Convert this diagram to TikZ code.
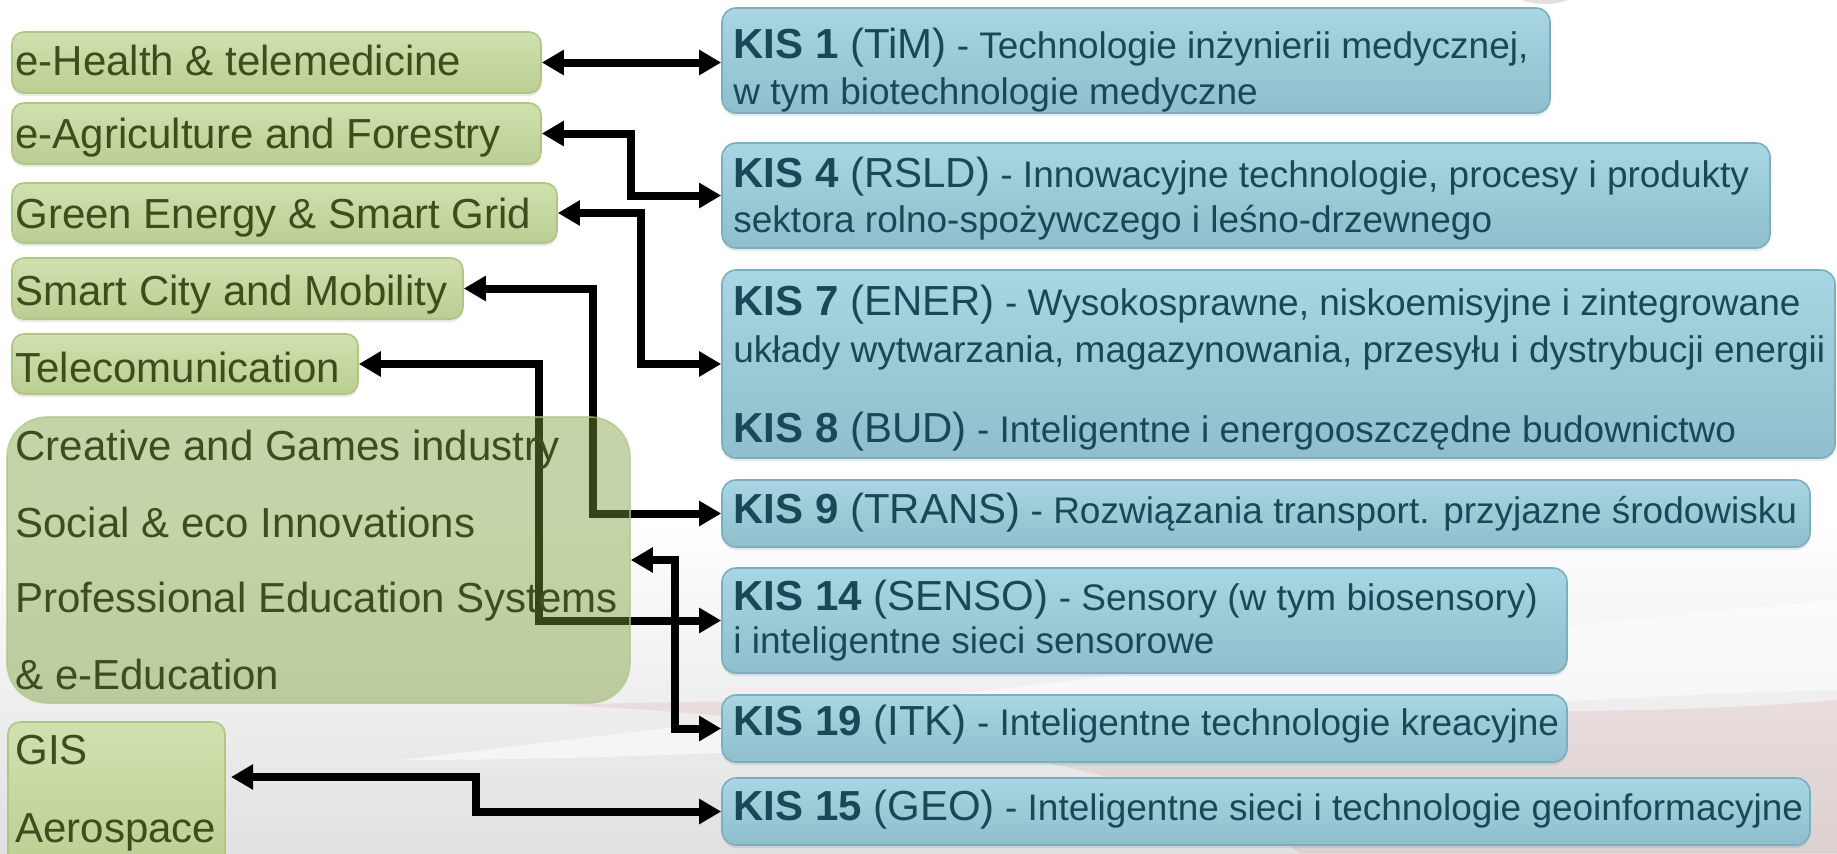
\documentclass[tikz,border=0pt]{standalone}
\usepackage{fontspec}
\setmainfont{Liberation Sans}
\usetikzlibrary{arrows.meta,fit,shadows}
\pgfdeclarelayer{bglayer}
\pgfdeclarelayer{arrlayer}
\pgfsetlayers{bglayer,arrlayer,main}
\definecolor{gtop}{HTML}{D0E1AF}
\definecolor{gbot}{HTML}{BBCE92}
\definecolor{gline}{HTML}{AFC77F}
\definecolor{gtext}{HTML}{3B4E1C}
\definecolor{btop}{HTML}{A8D6E3}
\definecolor{bbot}{HTML}{8FBFCC}
\definecolor{bline}{HTML}{78B0C2}
\definecolor{btext}{HTML}{1B4856}
\definecolor{cfill}{HTML}{7D9F39}
\newcommand\kishead[2]{{\fontsize{21}{25}\selectfont\textbf{#1} #2}}
\begin{document}
\begin{tikzpicture}[x=0.5pt,y=-0.5pt,
  gbox/.style={rounded corners=6pt, draw=gline, line width=0.8pt, top color=gtop, bottom color=gbot, inner sep=0pt,
    drop shadow={opacity=0.18,shadow xshift=0pt,shadow yshift=-1.5pt}},
  bbox/.style={rounded corners=7pt, draw=bline, line width=0.8pt, top color=btop, bottom color=bbot, inner sep=0pt,
    drop shadow={opacity=0.18,shadow xshift=0pt,shadow yshift=-1.5pt}},
  cbox/.style={rounded corners=20pt, draw=gline, draw opacity=0.7, line width=0.8pt, fill=cfill, fill opacity=0.44, inner sep=0pt},
  gtxt/.style={anchor=base west, inner sep=0pt, text=gtext, font=\fontsize{21}{25}\selectfont},
  btxt/.style={anchor=base west, inner sep=0pt, text=btext, font=\fontsize{18.5}{22}\selectfont},
  conn/.style={line width=4pt, {Triangle[length=11pt,width=12pt]}-{Triangle[length=11pt,width=12pt]}}]
\useasboundingbox (0,0) rectangle (1837,853);

\begin{pgfonlayer}{bglayer}
\fill[white] (0,0) rectangle (1837,853);
\shade[top color=white, bottom color=black!12] (0,520) rectangle (1837,853);
\fill[red!50!gray, opacity=0.10] (560,705) .. controls (1000,690) and (1500,730) .. (1837,700) -- (1837,853) -- (1300,853) .. controls (1200,780) and (900,720) .. (560,705) -- cycle;
\fill[white, opacity=0.55] (400,760) .. controls (900,700) and (1400,640) .. (1837,600) -- (1837,690) .. controls (1400,700) and (900,760) .. (400,760) -- cycle;
\fill[black!12] (1545,-40) ellipse [x radius=28pt, y radius=22pt];
\end{pgfonlayer}

% left boxes
\node[gbox, fit={(12,32) (541,93)}] (ehealth) {};
\node[gbox, fit={(12,103) (541,164)}] (eagri) {};
\node[gbox, fit={(12,183) (557,243)}] (green) {};
\node[gbox, fit={(12,258) (463,319)}] (smart) {};
\node[gbox, fit={(12,334) (358,394)}] (telecom) {};
\node[cbox, fit={(7,417) (630,703)}] (creative) {};
\node[gbox, fit={(8,722) (225,875)}] (gis) {};

\node[gtxt] (ehealthT) at (15,75) {e-Health \& telemedicine};
\node[gtxt] (eagriT) at (15,148) {e-Agriculture and Forestry};
\node[gtxt] (greenT) at (15,228) {Green Energy \& Smart Grid};
\node[gtxt] (smartT) at (15,305) {Smart City and Mobility};
\node[gtxt] (telecomT) at (15,382) {Telecomunication};
\node[gtxt] (creaT1) at (15,460) {Creative and Games industry};
\node[gtxt] (creaT2) at (15,537) {Social \& eco Innovations};
\node[gtxt] (creaT3) at (15,612) {Professional Education Systems};
\node[gtxt] (creaT4) at (15,689) {\& e-Education};
\node[gtxt] (gisT1) at (15,764) {GIS};
\node[gtxt] (gisT2) at (15,842) {Aerospace};

% right boxes
\node[bbox, fit={(722,8) (1550,113)}] (kis1) {};
\node[bbox, fit={(722,143) (1770,248)}] (kis4) {};
\node[bbox, fit={(722,270) (1835,458)}] (kis7) {};
\node[bbox, fit={(722,480) (1810,547)}] (kis9) {};
\node[bbox, fit={(722,568) (1567,673)}] (kis14) {};
\node[bbox, fit={(722,695) (1567,762)}] (kis19) {};
\node[bbox, fit={(722,778) (1810,845)}] (kis15) {};

\node[btxt] (kis1a) at (733,58) {\kishead{KIS 1}{(TiM)} - Technologie inżynierii medycznej,};
\node[btxt] (kis1b) at (733,104) {w tym biotechnologie medyczne};
\node[btxt] (kis4a) at (733,187) {\kishead{KIS 4}{(RSLD)} - Innowacyjne technologie, procesy i produkty};
\node[btxt] (kis4b) at (733,232) {sektora rolno-spożywczego i leśno-drzewnego};
\node[btxt] (kis7a) at (733,315) {\kishead{KIS 7}{(ENER)} - Wysokosprawne, niskoemisyjne i zintegrowane};
\node[btxt] (kis7b) at (733,362) {układy wytwarzania, magazynowania, przesyłu i dystrybucji energii};
\node[btxt] (kis8t) at (733,442) {\kishead{KIS 8}{(BUD)} - Inteligentne i energooszczędne budownictwo};
\node[btxt] (kis9t) at (733,523) {\kishead{KIS 9}{(TRANS)} - Rozwiązania transport. przyjazne środowisku};
\node[btxt] (kis14a) at (733,610) {\kishead{KIS 14}{(SENSO)} - Sensory (w tym biosensory)};
\node[btxt] (kis14b) at (733,653) {i inteligentne sieci sensorowe};
\node[btxt] (kis19t) at (733,735) {\kishead{KIS 19}{(ITK)} - Inteligentne technologie kreacyjne};
\node[btxt] (kis15t) at (733,820) {\kishead{KIS 15}{(GEO)} - Inteligentne sieci i technologie geoinformacyjne};

% bend points
\coordinate (v2) at (631,133.5);
\coordinate (v3) at (641,213);
\coordinate (v4) at (593,288.5);
\coordinate (v5) at (539,364);
\coordinate (v6) at (675,560);
\coordinate (gisE) at (231,777);
\coordinate (v7) at (476,777);

\begin{pgfonlayer}{arrlayer}
\draw[conn] (ehealth.east) -- (ehealth.east -| kis1.west);
\draw[conn] (eagri.east) -- (v2) |- (kis4.west);
\draw[conn] (green.east) -- (v3) |- (kis7.west);
\draw[conn] (smart.east) -- (v4) |- (kis9.west);
\draw[conn] (telecom.east) -- (v5) |- (kis14.west);
\draw[conn] (creative.east) -- (v6) |- (kis19.west);
\draw[conn] (gisE) -- (v7) |- (kis15.west);
\end{pgfonlayer}
\end{tikzpicture}
\end{document}
